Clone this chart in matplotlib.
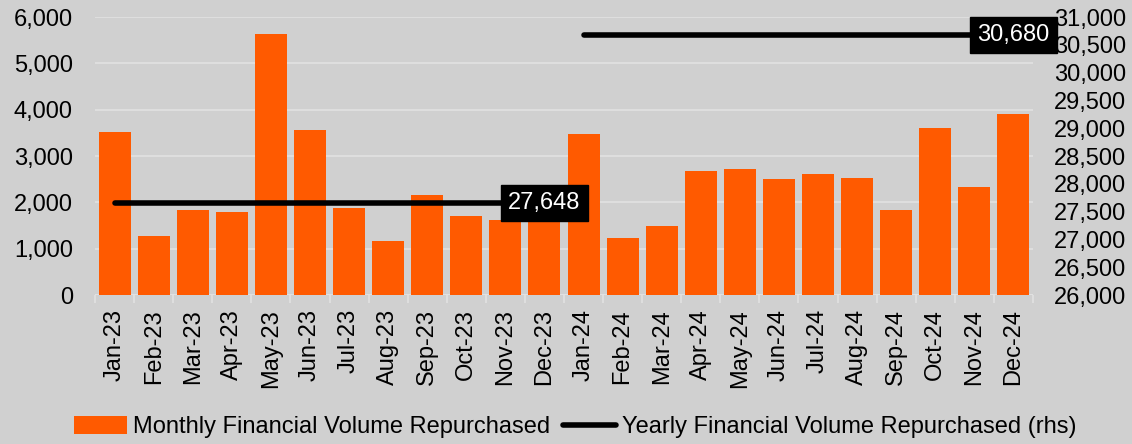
import matplotlib
matplotlib.use("Agg")
import matplotlib.pyplot as plt
from matplotlib.ticker import FuncFormatter, MultipleLocator
import numpy as np

months = ["Jan-23", "Feb-23", "Mar-23", "Apr-23", "May-23", "Jun-23", "Jul-23", "Aug-23",
          "Sep-23", "Oct-23", "Nov-23", "Dec-23", "Jan-24", "Feb-24", "Mar-24", "Apr-24",
          "May-24", "Jun-24", "Jul-24", "Aug-24", "Sep-24", "Oct-24", "Nov-24", "Dec-24"]
monthly = [3510, 1270, 1830, 1790, 5630, 3560, 1875, 1165, 2150, 1705, 1615, 1750,
           3475, 1230, 1490, 2675, 2715, 2500, 2610, 2520, 1835, 3600, 2330, 3905]
yearly_2023 = 27648
yearly_2024 = 30680

plt.rcParams['font.family'] = ['Liberation Sans', 'DejaVu Sans']
BG = "#D0D0D0"
ORANGE = "#FF5A00"
GRID = "#E2E2E2"
FS = 17

fig = plt.figure(figsize=(11.32, 4.44), dpi=100, facecolor=BG)
ax = fig.add_axes([95/1132, 1-295/444, 938/1132, 278/444])
ax.set_facecolor(BG)
x = np.arange(len(months))
ax.bar(x, monthly, width=0.82, color=ORANGE, zorder=2,
       label="Monthly Financial Volume Repurchased")
ax.set_xlim(-0.5, len(months) - 0.5)
ax.set_ylim(0, 6000)
ax.yaxis.set_major_locator(MultipleLocator(1000))
ax.yaxis.set_major_formatter(FuncFormatter(lambda v, p: f"{int(v):,}"))
ax.grid(axis='y', color=GRID, linewidth=1.2, zorder=0)
ax.set_xticks(x)
ax.set_xticklabels(months, rotation=90)
ax.tick_params(axis='x', length=0, pad=10, labelsize=FS)
ax.tick_params(axis='y', length=0, pad=16, labelsize=FS)
ax.set_xticks(np.arange(-0.5, len(months), 1), minor=True)
ax.tick_params(axis='x', which='minor', length=6, color=GRID, width=1.2, direction='out')
for s in ax.spines.values():
    s.set_visible(False)
ax.axhline(0, color=GRID, linewidth=1.2, zorder=1)

ax2 = ax.twinx()
ax2.set_ylim(26000, 31000)
ax2.yaxis.set_major_locator(MultipleLocator(500))
ax2.yaxis.set_major_formatter(FuncFormatter(lambda v, p: f"{int(v):,}"))
ax2.tick_params(axis='y', length=0, pad=15, labelsize=FS)
for s in ax2.spines.values():
    s.set_visible(False)

l1, = ax2.plot([0, 11], [yearly_2023, yearly_2023], color="black", linewidth=4,
               solid_capstyle='round', zorder=3, label="Yearly Financial Volume Repurchased (rhs)")
ax2.plot([12, 23], [yearly_2024, yearly_2024], color="black", linewidth=4,
         solid_capstyle='round', zorder=3)
for xi, v in [(11, yearly_2023), (23, yearly_2024)]:
    ax2.text(xi, v, f"{v:,}", color="white", fontsize=FS, ha="center", va="center",
             bbox=dict(boxstyle="square,pad=0.3", facecolor="black", edgecolor="black"),
             zorder=5, clip_on=False)

h1, lab1 = ax.get_legend_handles_labels()
fig.legend(h1 + [l1], lab1 + [l1.get_label()], loc="center",
           bbox_to_anchor=(575/1132, 1-427/444), ncol=2, frameon=False, fontsize=FS,
           handlelength=2.25, handleheight=0.8, handletextpad=0.25, columnspacing=0.55,
           borderpad=0)

fig.savefig("out.png", dpi=100, facecolor=BG)
